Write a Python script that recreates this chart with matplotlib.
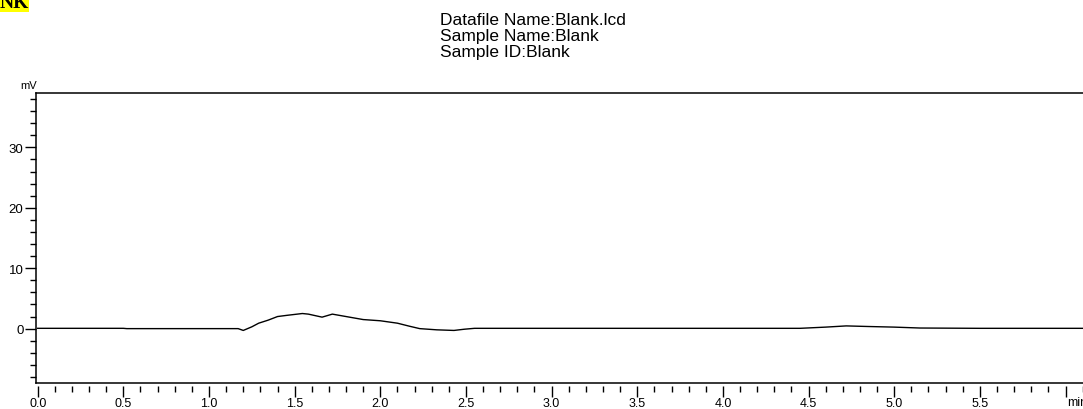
import matplotlib.pyplot as plt
from matplotlib.ticker import MultipleLocator
import matplotlib.transforms as mtransforms

# ------------------------------------------------------------------------------
# chromatogram trace (time in min, signal in mV)
time_min = [0.0, 0.5, 0.52, 1.0, 1.17, 1.20, 1.25, 1.29, 1.345, 1.40, 1.455,
            1.545, 1.58, 1.66, 1.72, 1.78, 1.90, 2.0, 2.10, 2.17, 2.23, 2.33,
            2.43, 2.49, 2.55, 2.93, 3.5, 4.0, 4.45, 4.6, 4.72, 4.85, 5.0,
            5.15, 5.5, 6.2]
signal_mv = [0.05, 0.05, 0.0, 0.0, 0.0, -0.3, 0.3, 0.9, 1.4, 2.0, 2.2,
             2.5, 2.4, 1.9, 2.4, 2.1, 1.5, 1.3, 0.9, 0.4, 0.0, -0.2,
             -0.3, -0.1, 0.05, 0.05, 0.05, 0.05, 0.05, 0.25, 0.45, 0.35, 0.25,
             0.1, 0.05, 0.05]

x_ticks = [0.0, 0.5, 1.0, 1.5, 2.0, 2.5, 3.0, 3.5, 4.0, 4.5, 5.0, 5.5, 6.0]
x_labels = ['0.0', '0.5', '1.0', '1.5', '2.0', '2.5', '3.0', '3.5', '4.0',
            '4.5', '5.0', '5.5', '']
y_ticks = [0, 10, 20, 30]
y_labels = ['0', '10', '20', '30']

header_lines = ['Datafile Name:Blank.lcd', 'Sample Name:Blank', 'Sample ID:Blank']
# ------------------------------------------------------------------------------
plt.rcParams['font.family'] = ['Liberation Sans', 'DejaVu Sans']

W, H = 1083, 410
fig = plt.figure(figsize=(W / 100, H / 100), dpi=100)

x0, x1 = -0.01, 6.2
px_per_min = 171.3
ax_left, ax_bottom, ax_top = 36, 384, 94
ax_w = (x1 - x0) * px_per_min
ax = fig.add_axes([ax_left / W, (H - ax_bottom) / H, ax_w / W, (ax_bottom - ax_top) / H])

ax.plot(time_min, signal_mv, color='black', lw=1.0)
ax.set_xlim(x0, x1)
ax.set_ylim(-9, 39)

for s in ax.spines.values():
    s.set_linewidth(1.1)

# y axis
ax.set_yticks(y_ticks)
ax.set_yticklabels(y_labels)
ax.yaxis.set_minor_locator(MultipleLocator(2))
ax.tick_params(axis='y', which='major', direction='out', length=8, width=1.0,
               pad=1, labelsize=9.5)
ax.tick_params(axis='y', which='minor', direction='out', length=4, width=1.0)

# x axis: ticks detached slightly below the frame
ax.tick_params(axis='x', which='both', bottom=False, labelbottom=False)
sec = ax.secondary_xaxis(-3 / (ax_bottom - ax_top))
sec.spines['bottom'].set_visible(False)
sec.set_xticks(x_ticks)
sec.set_xticklabels(x_labels)
sec.xaxis.set_minor_locator(MultipleLocator(0.1))
sec.tick_params(axis='x', which='major', direction='out', length=8, width=1.0,
                pad=0, labelsize=9)
sec.tick_params(axis='x', which='minor', direction='out', length=4.5, width=1.0)

trans = mtransforms.blended_transform_factory(ax.transData, fig.transFigure)
ax.text(6.0 + 2 / px_per_min, (H - 409) / H, 'min', transform=trans,
        ha='left', va='bottom', fontsize=9)

# unit label
fig.text(37 / W, (H - 91) / H, 'mV', ha='right', va='bottom', fontsize=8)

# header
fig.text(440 / W, (H - 13) / H, '\n'.join(header_lines), ha='left', va='top',
         fontsize=12.5, linespacing=1.1)

# clipped highlighted label in the corner
fig.text(0, (H - 8.5) / H, 'NK', ha='left', va='baseline', fontsize=14,
         fontweight='bold', family='Liberation Serif',
         bbox=dict(facecolor='yellow', edgecolor='none', pad=0))

fig.savefig('out.png', dpi=100)
